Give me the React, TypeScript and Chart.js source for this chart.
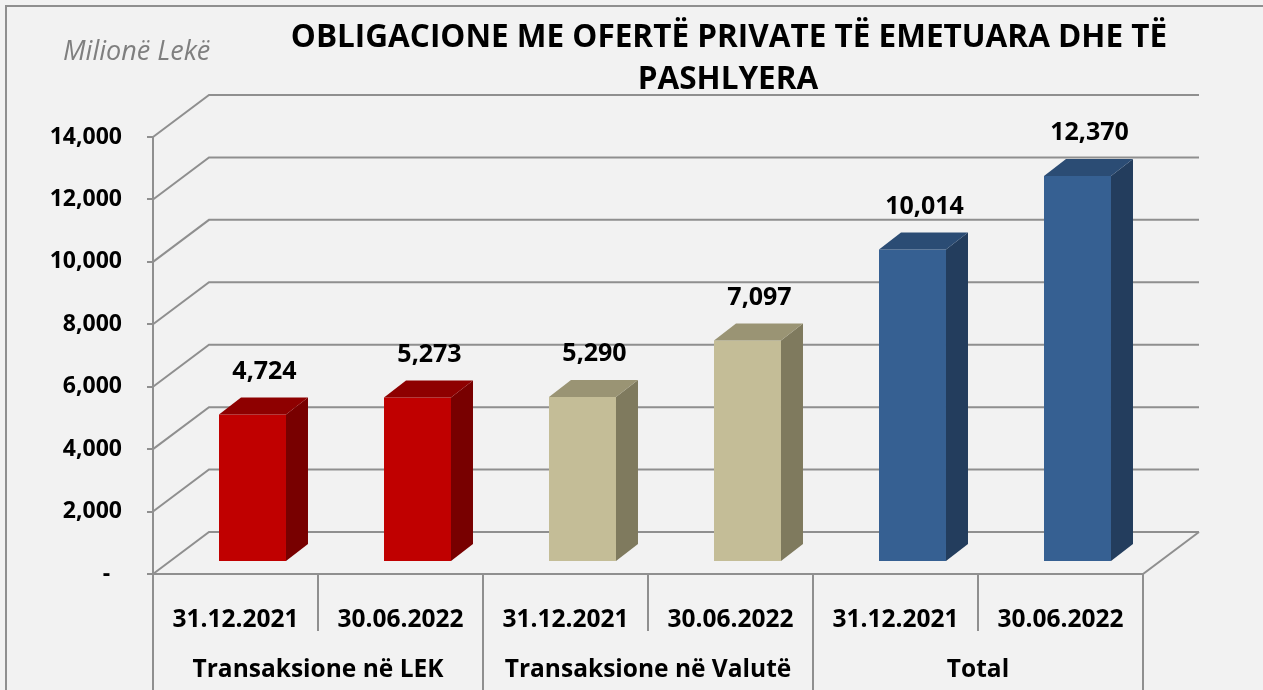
import React, { useEffect, useRef } from 'react';
import { Chart, registerables } from 'chart.js';

Chart.register(...registerables);

// ---------- data ----------
const categories = ['31.12.2021', '30.06.2022', '31.12.2021', '30.06.2022', '31.12.2021', '30.06.2022'];
const groups = ['Transaksione në LEK', 'Transaksione në Valutë', 'Total'];
const values = [4724, 5273, 5290, 7097, 10014, 12370];
const yMin = 0;
const yMax = 14000;
const yStep = 2000;
const titleLines = ['OBLIGACIONE ME OFERTË PRIVATE TË EMETUARA DHE TË', 'PASHLYERA'];
const unitLabel = 'Milionë Lekë';

// ---------- styles ----------
const frontColors = ['#c00000', '#c00000', '#c4bd97', '#c4bd97', '#366092', '#366092'];
const topColors = ['#8e0000', '#8e0000', '#9a9474', '#9a9474', '#2b4c74', '#2b4c74'];
const sideColors = ['#780000', '#780000', '#7f7a5e', '#7f7a5e', '#233d5d', '#233d5d'];

const FONT = '"Open Sans", "DejaVu Sans", sans-serif';
const GRID = '#8f8f8f';
const BG = '#f2f2f2';

const WALL_DX = 56; // floor / wall depth
const WALL_DY = -42;
const BAR_DX = 17; // bar front plane offset within depth
const BAR_DY = -12;
const BAR_DEPTH_X = 22;
const BAR_DEPTH_Y = -17;
const LABEL_DX = 12;
const LABEL_DY = -43;

const threeD = {
  id: 'threeD',
  beforeDraw(chart: any) {
    const { ctx, chartArea, scales } = chart;
    const y = scales.y;
    ctx.save();
    ctx.fillStyle = BG;
    ctx.fillRect(0, 0, chart.width, chart.height);
    // outer border
    ctx.strokeStyle = GRID;
    ctx.lineWidth = 2;
    ctx.beginPath();
    ctx.moveTo(6, chart.height + 5);
    ctx.lineTo(6, 6);
    ctx.lineTo(chart.width + 5, 6);
    ctx.stroke();
    // perspective grid lines (side wall + back wall)
    const wallRight = chartArea.right + WALL_DX;
    ctx.lineWidth = 2;
    ctx.strokeStyle = GRID;
    y.ticks.forEach((t: any) => {
      const py = y.getPixelForValue(t.value);
      ctx.beginPath();
      ctx.moveTo(chartArea.left, py);
      ctx.lineTo(chartArea.left + WALL_DX, py + WALL_DY);
      ctx.lineTo(wallRight, py + WALL_DY);
      ctx.stroke();
    });
    // floor front and right edges
    const by = y.getPixelForValue(yMin);
    ctx.beginPath();
    ctx.moveTo(chartArea.left, by);
    ctx.lineTo(chartArea.right, by);
    ctx.lineTo(wallRight, by + WALL_DY);
    ctx.stroke();
    ctx.restore();
  },
  beforeDatasetsDraw(chart: any) {
    chart.ctx.save();
    chart.ctx.translate(BAR_DX, BAR_DY);
  },
  afterDatasetsDraw(chart: any) {
    const { ctx } = chart;
    const meta = chart.getDatasetMeta(0);
    meta.data.forEach((bar: any, i: number) => {
      const p = bar.getProps(['x', 'y', 'base', 'width'], true);
      const l = p.x - p.width / 2;
      const r = p.x + p.width / 2;
      const top = Math.min(p.y, p.base);
      const bot = Math.max(p.y, p.base);
      // side
      ctx.fillStyle = sideColors[i];
      ctx.beginPath();
      ctx.moveTo(r, top);
      ctx.lineTo(r + BAR_DEPTH_X, top + BAR_DEPTH_Y);
      ctx.lineTo(r + BAR_DEPTH_X, bot + BAR_DEPTH_Y);
      ctx.lineTo(r, bot);
      ctx.closePath();
      ctx.fill();
      // top
      ctx.fillStyle = topColors[i];
      ctx.beginPath();
      ctx.moveTo(l, top);
      ctx.lineTo(l + BAR_DEPTH_X, top + BAR_DEPTH_Y);
      ctx.lineTo(r + BAR_DEPTH_X, top + BAR_DEPTH_Y);
      ctx.lineTo(r, top);
      ctx.closePath();
      ctx.fill();
    });
    ctx.restore();
  },
  afterDraw(chart: any) {
    const { ctx, scales } = chart;
    const x = scales.x;
    const y = scales.y;
    const meta = chart.getDatasetMeta(0);
    ctx.save();
    // value labels
    ctx.fillStyle = '#000';
    ctx.font = `bold 25px ${FONT}`;
    ctx.textAlign = 'center';
    ctx.textBaseline = 'middle';
    meta.data.forEach((bar: any, i: number) => {
      const p = bar.getProps(['x', 'y'], true);
      ctx.fillText(values[i].toLocaleString('en-US'), p.x + BAR_DX + LABEL_DX, p.y + BAR_DY + LABEL_DY);
    });
    // category dividers
    const by = y.getPixelForValue(yMin);
    const n = categories.length;
    const half = (x.getPixelForValue(1) - x.getPixelForValue(0)) / 2;
    ctx.strokeStyle = GRID;
    ctx.lineWidth = 2;
    for (let i = 0; i <= n; i++) {
      const px = i === n ? x.getPixelForValue(n - 1) + half : x.getPixelForValue(i) - half;
      const full = i % 2 === 0;
      ctx.beginPath();
      ctx.moveTo(px, by);
      ctx.lineTo(px, full ? chart.height + 2 : by + 57);
      ctx.stroke();
    }
    // group labels
    ctx.font = `bold 24.5px ${FONT}`;
    groups.forEach((g, gi) => {
      const cx = (x.getPixelForValue(gi * 2) + x.getPixelForValue(gi * 2 + 1)) / 2;
      ctx.fillText(g, cx, 670);
    });
    // title
    ctx.font = `bold 31.5px ${FONT}`;
    ctx.textBaseline = 'alphabetic';
    ctx.fillText(titleLines[0], 729, 47);
    ctx.fillText(titleLines[1], 728, 89);
    // unit label
    ctx.font = `italic 27px ${FONT}`;
    ctx.fillStyle = '#7f7f7f';
    ctx.textAlign = 'left';
    ctx.fillText(unitLabel, 63, 60);
    ctx.restore();
  },
};

export default function App() {
  const ref = useRef<HTMLCanvasElement | null>(null);
  useEffect(() => {
    if (!ref.current) return;
    const chart = new Chart(ref.current, {
      type: 'bar',
      data: {
        labels: categories,
        datasets: [
          {
            data: values,
            backgroundColor: frontColors,
            borderWidth: 0,
            barPercentage: 0.406,
            categoryPercentage: 1,
          },
        ],
      },
      options: {
        responsive: false,
        animation: false,
        devicePixelRatio: 1,
        layout: { padding: { left: 0, right: 120, top: 137, bottom: 0 } },
        plugins: {
          legend: { display: false },
          title: { display: false },
          tooltip: { enabled: false },
        },
        scales: {
          x: {
            grid: { display: false },
            border: { display: false },
            ticks: {
              autoSkip: false,
              maxRotation: 0,
              color: '#000',
              padding: 23,
              font: { family: FONT, size: 24.5, weight: 'bold' },
            },
            afterFit: (s: any) => {
              s.height = 116;
            },
          },
          y: {
            min: yMin,
            max: yMax,
            grid: { drawOnChartArea: false, drawTicks: true, tickLength: 6, color: GRID, lineWidth: 2 },
            border: { display: true, color: GRID, width: 2 },
            ticks: {
              stepSize: yStep,
              color: '#000',
              padding: 25,
              font: { family: FONT, size: 23, weight: 'bold' },
              callback: (v: any) => (Number(v) === 0 ? '-  ' : Number(v).toLocaleString('en-US')),
            },
            afterFit: (s: any) => {
              s.width = 153;
            },
          },
        },
      },
      plugins: [threeD],
    });
    return () => chart.destroy();
  }, []);
  return (
    <div style={{ position: 'fixed', left: 0, top: 0, width: 1263, height: 690, background: BG }}>
      <canvas ref={ref} width={1263} height={690} style={{ display: 'block' }} />
    </div>
  );
}
